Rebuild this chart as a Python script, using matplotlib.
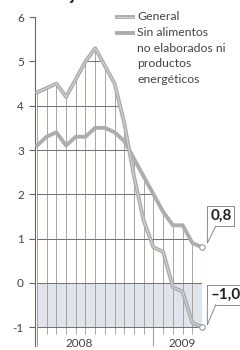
import numpy as np
import matplotlib; matplotlib.use("Agg")
import matplotlib.pyplot as plt
from matplotlib.patches import Polygon
from matplotlib.lines import Line2D

plt.rcParams['font.family'] = ['Lato', 'DejaVu Sans']

# monthly data, Jan 2008 .. Jun 2009
months = np.arange(18)
general = [4.3, 4.4, 4.5, 4.2, 4.6, 5.0, 5.3, 4.9, 4.5, 3.6, 2.4, 1.4,
           0.8, 0.7, -0.1, -0.2, -0.9, -1.0]
core = [3.1, 3.3, 3.4, 3.1, 3.3, 3.3, 3.5, 3.5, 3.4, 3.2, 2.8, 2.4,
        2.0, 1.6, 1.3, 1.3, 0.9, 0.8]
yticks = [-1, 0, 1, 2, 3, 4, 5, 6]
year_labels = ["2008", "2009"]
year_pos = [4.4, 15.0]
year_breaks = [0, 12]
end_labels = ["0,8", "\u20131,0"]

LINE = "#abadaf"
VGRID = "#a89488"
HGRID = "#6f6f6f"
TXT = "#444444"

fig = plt.figure(figsize=(2.4, 3.5), dpi=100)
ax = fig.add_axes([35 / 240, 3 / 350, 168 / 240, 332 / 350])
ax.set_xlim(-0.2, 17.1)
ax.set_ylim(-1.45, 6.05)
for sp in ["top", "right", "bottom"]:
    ax.spines[sp].set_visible(False)
ax.spines["left"].set_bounds(-1.42, 6)
ax.spines["left"].set_color("#666")
ax.spines["left"].set_linewidth(0.8)
ax.set_xticks([])
ax.set_yticks(yticks)
ax.set_yticklabels([str(v) for v in yticks])
ax.tick_params(axis="y", length=4, width=0.8, color="#666", pad=4,
               labelsize=8.5, labelcolor=TXT)

# shaded negative band
ax.fill_between(months, -1, 0, color="#dfe4ec", lw=0, zorder=0)

# clip grid to area under the upper envelope
xf = np.linspace(0, 17, 400)
env = np.maximum(np.interp(xf, months, general), np.interp(xf, months, core))
verts = [(0, -1.5)] + list(zip(xf, env)) + [(17, -1.5)]
clip = Polygon(verts, closed=True, transform=ax.transData, fc="none", ec="none")
ax.add_patch(clip)

vl = ax.vlines(months, -1.15, 6.5, color=VGRID, lw=0.6, zorder=1)
vl.set_clip_path(clip)
hl = ax.hlines(yticks, -0.2, 17, color=HGRID, lw=0.7, zorder=1)
hl.set_clip_path(clip)
ax.vlines(year_breaks, -1.42, -1, color=VGRID, lw=0.7, zorder=1, clip_on=False)

# series
ax.plot(months, core, color=LINE, lw=2.8, solid_capstyle="round", zorder=3)
ax.plot(months, general, color=LINE, lw=2.8, solid_capstyle="round", zorder=3)
ax.plot(months, general, color="#d6d7d8", lw=0.7, zorder=3)
ax.plot([months[-1]] * 2, [core[-1], general[-1]], "o", ms=4, mfc="white",
        mec="#999", mew=0.8, zorder=4, clip_on=False)

for lab, x in zip(year_labels, year_pos):
    ax.text(x, -1.36, lab, ha="center", va="center", fontsize=8.5,
            color=TXT, clip_on=False)

# callouts
for lab, ty, by, tip in [(end_labels[0], 1.51, 1.27, 0.9),
                          (end_labels[1], -0.27, -0.5, -0.95)]:
    ax.text(17.84, ty, lab, ha="left", va="center", fontsize=11,
            fontweight="bold", color="#222", clip_on=False, zorder=5,
            bbox=dict(boxstyle="square,pad=0.18", fc="white", ec="#8a8a8a", lw=0.7))
    ax.fill([17.55, 17.55, 18.4], [by + 0.02, tip, by + 0.02], fc="white",
            ec="none", zorder=6, clip_on=False)
    ax.plot([17.55, 17.55, 18.4], [by, tip, by], color="#8a8a8a", lw=0.7,
            zorder=7, clip_on=False)

# legend
def fy(py):
    return 1 - py / 350

fig.add_artist(Line2D([117 / 240, 133 / 240], [fy(17)] * 2, color=LINE, lw=2.8))
fig.add_artist(Line2D([117 / 240, 133 / 240], [fy(17)] * 2, color="#d6d7d8", lw=0.7))
fig.add_artist(Line2D([117 / 240, 133 / 240], [fy(33)] * 2, color=LINE, lw=2.8))
fig.text(137 / 240, fy(17), "General", fontsize=8.8, color=TXT, va="center")
fig.text(137 / 240, fy(27), "Sin alimentos\nno elaborados ni\nproductos\nenergéticos",
         fontsize=8.8, color=TXT, va="top", linespacing=1.52)

# cut-off heading
fig.text(0.0, 1.0, "En su conjunto", fontsize=12, fontweight="bold",
         color="#222", va="baseline")

fig.savefig("out.png", dpi=100)
